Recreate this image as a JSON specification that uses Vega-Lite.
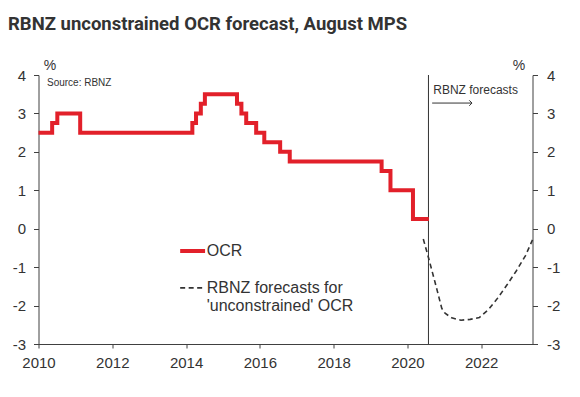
{
  "$schema": "https://vega.github.io/schema/vega-lite/v6.json",
  "width": 494,
  "height": 269,
  "autosize": {"type": "none"},
  "padding": {"left": 38.5, "top": 75, "right": 47.5, "bottom": 53},
  "background": "white",
  "title": {
    "text": "RBNZ unconstrained OCR forecast, August MPS",
    "anchor": "start",
    "frame": "group",
    "font": "Roboto",
    "fontSize": 18.5,
    "fontWeight": "bold",
    "color": "#333333",
    "baseline": "alphabetic",
    "dx": -30.5,
    "offset": 11
  },
  "config": {
    "view": {"stroke": null},
    "axis": {
      "grid": false,
      "domainColor": "#404040",
      "tickColor": "#404040",
      "labelColor": "#333333",
      "labelFont": "Liberation Sans",
      "labelFontSize": 15,
      "tickSize": 5,
      "labelFlush": false,
      "title": null
    }
  },
  "datasets": {
    "ocr": [
      {"date": 2010.0, "ocr": 2.5},
      {"date": 2010.37, "ocr": 2.75},
      {"date": 2010.51, "ocr": 3.0},
      {"date": 2011.13, "ocr": 2.5},
      {"date": 2014.17, "ocr": 2.75},
      {"date": 2014.27, "ocr": 3.0},
      {"date": 2014.4, "ocr": 3.25},
      {"date": 2014.51, "ocr": 3.5},
      {"date": 2015.38, "ocr": 3.25},
      {"date": 2015.5, "ocr": 3.0},
      {"date": 2015.63, "ocr": 2.75},
      {"date": 2015.9, "ocr": 2.5},
      {"date": 2016.12, "ocr": 2.25},
      {"date": 2016.55, "ocr": 2.0},
      {"date": 2016.81, "ocr": 1.75},
      {"date": 2019.3, "ocr": 1.5},
      {"date": 2019.54, "ocr": 1.0},
      {"date": 2020.15, "ocr": 0.25},
      {"date": 2020.58, "ocr": 0.25}
    ],
    "forecast": [
      {"date": 2020.43, "rate": -0.27},
      {"date": 2020.57, "rate": -0.75},
      {"date": 2020.75, "rate": -1.4},
      {"date": 2020.93, "rate": -2.07},
      {"date": 2021.02, "rate": -2.2},
      {"date": 2021.2, "rate": -2.32},
      {"date": 2021.45, "rate": -2.38},
      {"date": 2021.7, "rate": -2.36},
      {"date": 2021.95, "rate": -2.31},
      {"date": 2022.2, "rate": -2.1},
      {"date": 2022.45, "rate": -1.8},
      {"date": 2022.7, "rate": -1.46},
      {"date": 2022.95, "rate": -1.1},
      {"date": 2023.2, "rate": -0.7},
      {"date": 2023.39, "rate": -0.29}
    ]
  },
  "layer": [
    {
      "mark": {"type": "rule", "color": "#404040", "strokeWidth": 1},
      "encoding": {
        "y": {
          "datum": 0,
          "type": "quantitative",
          "scale": {"domain": [-3, 4], "nice": false, "zero": false},
          "axis": {"orient": "left", "values": [-3, -2, -1, 0, 1, 2, 3, 4], "labelPadding": 8, "labelExpr": "datum.value < 0 ? '-' + abs(datum.value) : datum.label"}
        }
      }
    },
    {
      "data": {"values": [{"date": 2020.57, "top": 4, "bottom": -3}]},
      "mark": {"type": "rule", "color": "#333333", "strokeWidth": 1},
      "encoding": {
        "x": {
          "field": "date",
          "type": "quantitative",
          "scale": {"domain": [2010, 2023.39], "nice": false, "zero": false},
          "axis": {
            "values": [2010, 2011, 2012, 2013, 2014, 2015, 2016, 2017, 2018, 2019, 2020, 2021, 2022, 2023],
            "format": "d",
            "labelExpr": "datum.value % 2 == 0 ? datum.label : ''",
            "tickSize": 4,
            "labelPadding": 7
          }
        },
        "y": {
          "field": "top",
          "type": "quantitative",
          "axis": {"orient": "right", "values": [-3, -2, -1, 0, 1, 2, 3, 4], "labelPadding": 9, "labelExpr": "datum.value < 0 ? '-' + abs(datum.value) : datum.label"}
        },
        "y2": {"field": "bottom"}
      }
    },
    {
      "data": {"name": "ocr"},
      "mark": {"type": "line", "color": "#E2202A", "strokeWidth": 4, "interpolate": "step-after", "strokeJoin": "miter", "strokeCap": "butt"},
      "encoding": {
        "x": {"field": "date", "type": "quantitative"},
        "y": {"field": "ocr", "type": "quantitative", "axis": null}
      }
    },
    {
      "data": {"name": "forecast"},
      "mark": {"type": "line", "color": "#333333", "strokeWidth": 1.6, "strokeDash": [5, 3.5]},
      "encoding": {
        "x": {"field": "date", "type": "quantitative"},
        "y": {"field": "rate", "type": "quantitative", "axis": null}
      }
    },
    {
      "data": {"values": [{"x": 2013.84, "x2": 2014.515, "y": -0.58}]},
      "mark": {"type": "rule", "color": "#E2202A", "strokeWidth": 4},
      "encoding": {
        "x": {"field": "x", "type": "quantitative"},
        "x2": {"field": "x2"},
        "y": {"field": "y", "type": "quantitative", "axis": null}
      }
    },
    {
      "data": {"values": [{"x": 2013.84, "x2": 2014.46, "y": -1.54}]},
      "mark": {"type": "rule", "color": "#333333", "strokeWidth": 1.6, "strokeDash": [5, 3.5]},
      "encoding": {
        "x": {"field": "x", "type": "quantitative"},
        "x2": {"field": "x2"},
        "y": {"field": "y", "type": "quantitative", "axis": null}
      }
    },
    {
      "data": {"values": [
        {"x": 2014.56, "y": -0.58, "label": "OCR"},
        {"x": 2014.56, "y": -1.54, "label": "RBNZ forecasts for"},
        {"x": 2014.56, "y": -2.02, "label": "'unconstrained' OCR"}
      ]},
      "mark": {"type": "text", "align": "left", "baseline": "middle", "font": "Liberation Sans", "fontSize": 16, "color": "#333333"},
      "encoding": {
        "x": {"field": "x", "type": "quantitative"},
        "y": {"field": "y", "type": "quantitative", "axis": null},
        "text": {"field": "label"}
      }
    },
    {
      "data": {"values": [{"x": 2020.7, "y": 3.61, "label": "RBNZ forecasts"}]},
      "mark": {"type": "text", "align": "left", "baseline": "middle", "font": "Liberation Sans", "fontSize": 12, "color": "#333333"},
      "encoding": {
        "x": {"field": "x", "type": "quantitative"},
        "y": {"field": "y", "type": "quantitative", "axis": null},
        "text": {"field": "label"}
      }
    },
    {
      "data": {"values": [{"x": 2010.23, "y": 3.8, "label": "Source: RBNZ"}]},
      "mark": {"type": "text", "align": "left", "baseline": "middle", "font": "Liberation Sans", "fontSize": 10, "color": "#333333"},
      "encoding": {
        "x": {"field": "x", "type": "quantitative"},
        "y": {"field": "y", "type": "quantitative", "axis": null},
        "text": {"field": "label"}
      }
    },
    {
      "data": {"values": [{"x": 2010.31, "y": 4.13, "label": "%"}, {"x": 2023.02, "y": 4.13, "label": "%"}]},
      "mark": {"type": "text", "align": "center", "baseline": "alphabetic", "font": "Liberation Sans", "fontSize": 14, "color": "#333333"},
      "encoding": {
        "x": {"field": "x", "type": "quantitative"},
        "y": {"field": "y", "type": "quantitative", "axis": null},
        "text": {"field": "label"}
      }
    },
    {
      "data": {"values": [{"x": 2020.67, "x2": 2021.75, "y": 3.27}]},
      "mark": {"type": "rule", "color": "#333333", "strokeWidth": 1},
      "encoding": {
        "x": {"field": "x", "type": "quantitative"},
        "x2": {"field": "x2"},
        "y": {"field": "y", "type": "quantitative", "axis": null}
      }
    },
    {
      "data": {"values": [{"x": 2021.75, "y": 3.27}]},
      "mark": {"type": "point", "shape": "M -1 -1 L 0 0 L -1 1", "filled": false, "size": 30, "color": "#333333", "strokeWidth": 1, "opacity": 1},
      "encoding": {
        "x": {"field": "x", "type": "quantitative"},
        "y": {"field": "y", "type": "quantitative", "axis": null}
      }
    }
  ],
  "resolve": {"axis": {"y": "independent"}}
}
